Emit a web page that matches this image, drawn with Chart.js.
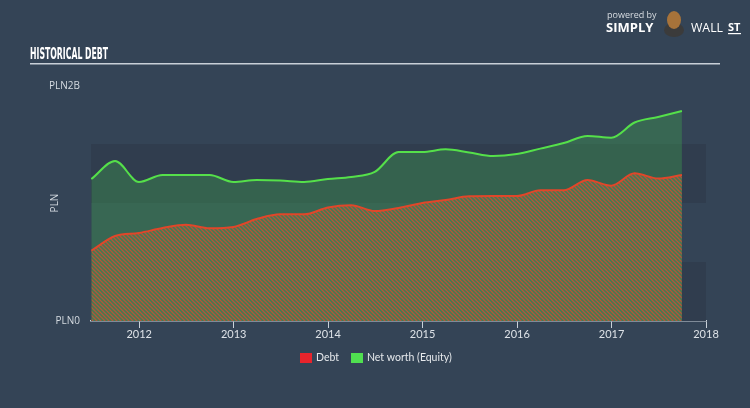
<!DOCTYPE html>
<html>
<head>
<meta charset="utf-8">
<script src="https://cdn.jsdelivr.net/npm/chart.js@4.4.0/dist/chart.umd.min.js"></script>
<style>
  html, body { margin: 0; padding: 0; background: #344456; }
  #wrap { width: 750px; height: 408px; }
</style>
</head>
<body>
<div id="wrap"><canvas id="debt-chart" width="750" height="408"></canvas></div>
<script>
// quarter-end dates, values in PLN millions
const dates = [
  "2011-06-30", "2011-09-30", "2011-12-31",
  "2012-03-31", "2012-06-30", "2012-09-30", "2012-12-31",
  "2013-03-31", "2013-06-30", "2013-09-30", "2013-12-31",
  "2014-03-31", "2014-06-30", "2014-09-30", "2014-12-31",
  "2015-03-31", "2015-06-30", "2015-09-30", "2015-12-31",
  "2016-03-31", "2016-06-30", "2016-09-30", "2016-12-31",
  "2017-03-31", "2017-06-30", "2017-09-30"
];
const debt = [596, 720, 746, 788, 816, 786, 797, 864, 904, 904, 962, 981, 932, 958, 1000,
  1025, 1057, 1059, 1059, 1107, 1107, 1195, 1147, 1252, 1208, 1237];
const equity = [1203, 1356, 1178, 1237, 1237, 1237, 1178, 1195, 1191, 1178, 1203, 1220, 1263, 1432, 1432,
  1455, 1428, 1398, 1415, 1461, 1508, 1568, 1553, 1682, 1729, 1780];
const yearTicks = [2012, 2013, 2014, 2015, 2016, 2017, 2018];
const yTickLabels = ["PLN0", "PLN2B"];
const bandEdges = [0, 500, 1000, 1500];

function toYear(s) {
  const d = new Date(s + "T00:00:00Z");
  const y = d.getUTCFullYear();
  const start = Date.UTC(y, 0, 1), end = Date.UTC(y + 1, 0, 1);
  return y + (d.getTime() - start) / (end - start);
}
const xs = dates.map(toYear);

// hatch for the debt area
function hatch() {
  const c = document.createElement('canvas');
  c.width = 4; c.height = 4;
  const g = c.getContext('2d');
  g.fillStyle = '#3f7d52';
  g.fillRect(0, 0, 4, 4);
  g.strokeStyle = '#b4543a';
  g.lineWidth = 1.3;
  g.beginPath();
  g.moveTo(0, 0); g.lineTo(4, 4);
  g.moveTo(-1, 3); g.lineTo(1, 5);
  g.moveTo(3, -1); g.lineTo(5, 1);
  g.stroke();
  return g.createPattern(c, 'repeat');
}

const decor = {
  id: 'decor',
  beforeDatasetsDraw(chart) {
    const { ctx, chartArea: a, scales: { y } } = chart;
    ctx.save();
    // alternating bands
    for (let i = 0; i < bandEdges.length; i++) {
      if (i % 2 === 1) continue;
      const top = y.getPixelForValue(bandEdges[i] + 500);
      const bot = y.getPixelForValue(bandEdges[i]);
      ctx.fillStyle = '#303d4e';
      ctx.fillRect(a.left, top, a.right - a.left, bot - top);
    }
    ctx.restore();
  },
  afterDraw(chart) {
    const { ctx, chartArea: a } = chart;
    ctx.save();
    // title + rule
    ctx.fillStyle = '#ffffff';
    ctx.font = 'bold 15px "Liberation Sans Narrow", "DejaVu Sans Condensed", sans-serif';
    ctx.textBaseline = 'alphabetic';
    ctx.textAlign = 'left';
    ctx.fillText('HISTORICAL DEBT', 30, 59, 78);
    ctx.fillStyle = '#c8cfd7';
    ctx.fillRect(30, 63, 690, 1.5);

    // logo
    ctx.fillStyle = '#d8dde2';
    ctx.font = '9px "Open Sans", sans-serif';
    ctx.fillText('powered by', 607, 18);
    ctx.fillStyle = '#ffffff';
    ctx.font = 'bold 13px "Open Sans", sans-serif';
    ctx.fillText('SIMPLY', 606, 32, 52);
    ctx.font = '13px "Open Sans", sans-serif';
    ctx.fillText('WALL', 691, 32, 32);
    ctx.font = 'bold 11px "Open Sans", sans-serif';
    ctx.fillText('ST', 728, 31);
    ctx.fillRect(728, 33, 13, 1.2);
    ctx.fillStyle = '#3b3b3b';
    ctx.beginPath(); ctx.ellipse(674, 30, 10, 7, 0, 0, Math.PI * 2); ctx.fill();
    ctx.fillStyle = '#a7733a';
    ctx.beginPath(); ctx.ellipse(674, 20, 7, 9, 0, 0, Math.PI * 2); ctx.fill();

    // y labels
    ctx.fillStyle = '#d5dbe1';
    ctx.font = '10px "Open Sans", sans-serif';
    ctx.textAlign = 'right';
    ctx.textBaseline = 'middle';
    ctx.fillText(yTickLabels[1], 80, a.top + 1);
    ctx.fillText(yTickLabels[0], 80, a.bottom);
    ctx.save();
    ctx.translate(55, 203);
    ctx.rotate(-Math.PI / 2);
    ctx.textAlign = 'center';
    ctx.fillText('PLN', 0, 0);
    ctx.restore();

    // legend
    const items = [
      { label: 'Debt', color: '#e8242c', x: 300 },
      { label: 'Net worth (Equity)', color: '#50e050', x: 351 }
    ];
    ctx.textAlign = 'left';
    ctx.font = '10.5px "Lato", sans-serif';
    items.forEach(it => {
      ctx.fillStyle = it.color;
      ctx.fillRect(it.x, 353, 12, 10);
      ctx.fillStyle = '#e6e9ec';
      ctx.fillText(it.label, it.x + 16, 358);
    });
    ctx.restore();
  }
};

const ctx = document.getElementById('debt-chart').getContext('2d');
new Chart(ctx, {
  type: 'line',
  data: {
    datasets: [
      {
        label: 'Debt',
        data: xs.map((x, i) => ({ x: x, y: debt[i] })),
        borderColor: '#e0472a',
        backgroundColor: hatch(),
        borderWidth: 2,
        fill: 'origin',
        pointRadius: 0,
        tension: 0.4,
        cubicInterpolationMode: 'monotone',
        order: 1
      },
      {
        label: 'Net worth (Equity)',
        data: xs.map((x, i) => ({ x: x, y: equity[i] })),
        borderColor: '#55e04a',
        backgroundColor: 'rgba(62,160,80,0.38)',
        borderWidth: 2,
        fill: 'origin',
        pointRadius: 0,
        tension: 0.4,
        cubicInterpolationMode: 'monotone',
        order: 2
      }
    ]
  },
  options: {
    responsive: false,
    animation: false,
    layout: { padding: { left: 91, right: 44, top: 85, bottom: 57 } },
    plugins: { legend: { display: false }, tooltip: { enabled: false } },
    scales: {
      x: {
        type: 'linear',
        min: 2011.49,
        max: 2018,
        afterBuildTicks: s => { s.ticks = yearTicks.map(v => ({ value: v })); },
        afterFit: s => { s.height = 30; },
        grid: { drawOnChartArea: false, drawTicks: true, tickLength: 7, color: '#c9d1d9' },
        border: { display: true, color: '#c9d1d9', width: 1.5 },
        ticks: {
          color: '#dde2e7',
          font: { family: 'Lato', size: 11 },
          padding: 0,
          maxRotation: 0,
          callback: v => String(v)
        }
      },
      y: {
        display: false,
        min: 0,
        max: 2000
      }
    }
  },
  plugins: [decor]
});
</script>
</body>
</html>
